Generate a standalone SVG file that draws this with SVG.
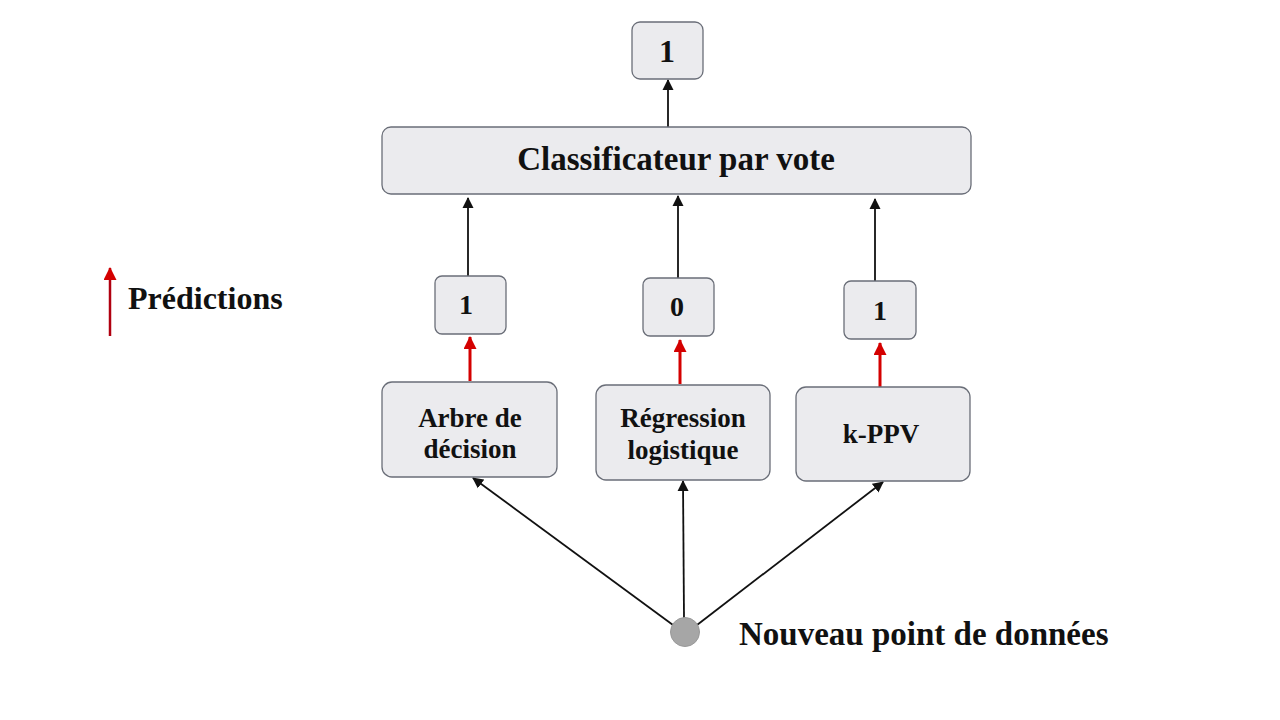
<svg xmlns="http://www.w3.org/2000/svg" width="1280" height="720" viewBox="0 0 1280 720">
<defs>
<marker id="ab" markerWidth="11" markerHeight="12" refX="10" refY="6" orient="auto" markerUnits="userSpaceOnUse"><path d="M0,0.5 L11,6 L0,11.5 z" fill="#111"/></marker>
<marker id="ar" markerWidth="13" markerHeight="13" refX="12" refY="6.5" orient="auto" markerUnits="userSpaceOnUse"><path d="M0,0 L13,6.5 L0,13 z" fill="#d40000"/></marker>
</defs>
<style>
.box{fill:#ebebee;stroke:#6a6e78;stroke-width:1.3}
.t{font-family:"Liberation Serif","Times New Roman",serif;font-weight:bold;fill:#111;text-anchor:middle}
.s{text-anchor:start}
.blk{stroke:#111;stroke-width:1.8;fill:none}
.red{stroke:#d40000;stroke-width:3;fill:none}
</style>
<rect width="1280" height="720" fill="#ffffff"/>
<g id="connectors">
<line class="blk" x1="668" y1="127" x2="668" y2="80" marker-end="url(#ab)"/>
<line class="blk" x1="468" y1="277" x2="468" y2="198" marker-end="url(#ab)"/>
<line class="blk" x1="678" y1="279" x2="678" y2="196" marker-end="url(#ab)"/>
<line class="blk" x1="875" y1="282" x2="875" y2="199" marker-end="url(#ab)"/>
<line class="red" x1="470" y1="381" x2="470" y2="337" marker-end="url(#ar)"/>
<line class="red" x1="680" y1="384" x2="680" y2="340" marker-end="url(#ar)"/>
<line class="red" x1="880" y1="387" x2="880" y2="343" marker-end="url(#ar)"/>
<line class="blk" x1="673" y1="625" x2="473" y2="478" marker-end="url(#ab)"/>
<line class="blk" x1="684" y1="618" x2="683" y2="481" marker-end="url(#ab)"/>
<line class="blk" x1="697" y1="625" x2="883" y2="482" marker-end="url(#ab)"/>
</g>
<g id="out"><rect class="box" x="632" y="22" width="71" height="57" rx="8"/><text class="t" x="667" y="62" font-size="32">1</text></g>
<g id="vote"><rect class="box" x="382" y="127" width="589" height="67" rx="9"/><text class="t" x="676" y="170" font-size="33">Classificateur par vote</text></g>
<g id="p1"><rect class="box" x="435" y="276" width="71" height="58" rx="7"/><text class="t" x="466" y="314" font-size="28">1</text></g>
<g id="p2"><rect class="box" x="643" y="278" width="71" height="58" rx="7"/><text class="t" x="677" y="316" font-size="28">0</text></g>
<g id="p3"><rect class="box" x="844" y="281" width="72" height="58" rx="7"/><text class="t" x="880" y="320" font-size="28">1</text></g>
<g id="m1"><rect class="box" x="382" y="382" width="175" height="95" rx="10"/><text class="t" x="470" y="427" font-size="27">Arbre de</text><text class="t" x="470" y="458" font-size="27">décision</text></g>
<g id="m2"><rect class="box" x="596" y="385" width="174" height="95" rx="10"/><text class="t" x="683" y="427" font-size="27">Régression</text><text class="t" x="683" y="459" font-size="27">logistique</text></g>
<g id="m3"><rect class="box" x="796" y="387" width="174" height="94" rx="10"/><text class="t" x="881" y="443" font-size="27">k-PPV</text></g>
<g id="point"><circle cx="685" cy="632" r="14.5" fill="#a6a6a6" stroke="#999" stroke-width="1"/><text class="t s" x="739" y="645" font-size="33">Nouveau point de données</text></g>
<g id="legend"><line class="red" x1="110" y1="336" x2="110" y2="268" marker-end="url(#ar)" style="stroke:#b00010;stroke-width:2.5"/><text class="t s" x="128" y="309" font-size="32">Prédictions</text></g>
</svg>
